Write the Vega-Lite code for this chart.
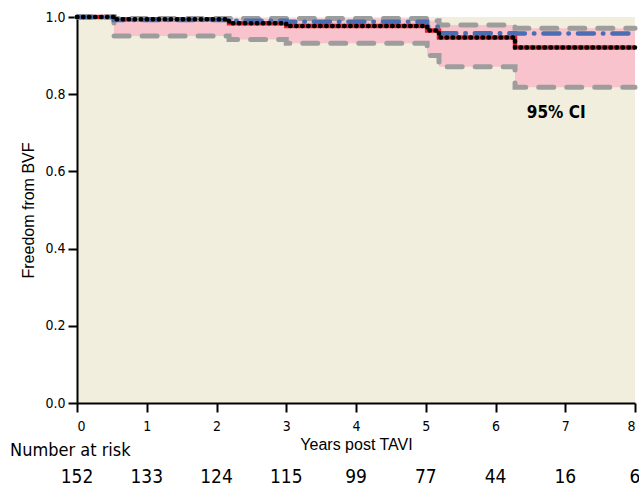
{
  "$schema": "https://vega.github.io/schema/vega-lite/v6.json",
  "width": 558,
  "height": 386,
  "autosize": {"type": "none"},
  "padding": {"left": 77, "top": 17, "right": 4, "bottom": 86},
  "background": "white",
  "config": {
    "view": {"fill": "#f2eedd", "stroke": null},
    "axis": {
      "domainColor": "black", "domainWidth": 2, "tickColor": "black", "tickWidth": 2, "tickSize": 9,
      "labelColor": "black", "labelFont": "DejaVu Sans Condensed", "labelFontSize": 14,
      "titleColor": "black", "titleFont": "Liberation Sans", "titleFontSize": 16, "titleFontWeight": "normal",
      "grid": false
    }
  },
  "datasets": {
    "curves": [
      {"t": 0, "km": 1.0, "lo": 1.0, "hi": 1.0, "blue": 1.0},
      {"t": 0.53, "km": 0.994, "lo": 0.951, "hi": 0.996, "blue": 0.992},
      {"t": 2.18, "km": 0.984, "lo": 0.942, "hi": 0.996, "blue": 0.990},
      {"t": 3.0, "km": 0.977, "lo": 0.932, "hi": 0.996, "blue": 0.988},
      {"t": 5.02, "km": 0.965, "lo": 0.90, "hi": 0.99, "blue": 0.975},
      {"t": 5.19, "km": 0.947, "lo": 0.871, "hi": 0.979, "blue": 0.958},
      {"t": 6.28, "km": 0.921, "lo": 0.818, "hi": 0.971, "blue": 0.957},
      {"t": 8, "km": 0.921, "lo": 0.818, "hi": 0.971, "blue": 0.957}
    ],
    "risk": [
      {"t": 0, "n": 152}, {"t": 1, "n": 133}, {"t": 2, "n": 124}, {"t": 3, "n": 115},
      {"t": 4, "n": 99}, {"t": 5, "n": 77}, {"t": 6, "n": 44}, {"t": 7, "n": 16}, {"t": 8, "n": 6}
    ]
  },
  "layer": [
    {
      "data": {"name": "curves"},
      "mark": {"type": "area", "interpolate": "step-after", "color": "#f9c3cd", "opacity": 1},
      "encoding": {
        "x": {"field": "t", "type": "quantitative", "scale": {"domain": [0, 8], "nice": false},
              "axis": {"title": "Years post TAVI", "values": [0,1,2,3,4,5,6,7,8], "format": "d", "labelPadding": 7, "titlePadding": 3}},
        "y": {"field": "lo", "type": "quantitative", "scale": {"domain": [0, 1], "nice": false},
              "axis": {"title": "Freedom from BVF", "values": [0,0.2,0.4,0.6,0.8,1.0], "format": ".1f", "labelPadding": 3, "titlePadding": 8}},
        "y2": {"field": "hi"}
      }
    },
    {
      "data": {"name": "curves"},
      "mark": {"type": "line", "interpolate": "step-after", "color": "#e3232c", "strokeWidth": 4.5},
      "encoding": {"x": {"field": "t", "type": "quantitative"}, "y": {"field": "km", "type": "quantitative"}}
    },
    {
      "data": {"name": "curves"},
      "mark": {"type": "line", "interpolate": "step-after", "color": "#9d9d9d", "strokeWidth": 5, "strokeDash": [15, 13], "strokeCap": "round"},
      "encoding": {"x": {"field": "t", "type": "quantitative"}, "y": {"field": "lo", "type": "quantitative"}}
    },
    {
      "data": {"name": "curves"},
      "mark": {"type": "line", "interpolate": "step-after", "color": "#9d9d9d", "strokeWidth": 5, "strokeDash": [15, 13], "strokeCap": "round"},
      "encoding": {"x": {"field": "t", "type": "quantitative"}, "y": {"field": "hi", "type": "quantitative"}}
    },
    {
      "data": {"name": "curves"},
      "mark": {"type": "line", "interpolate": "step-after", "color": "#4a6db4", "strokeWidth": 4.5, "strokeDash": [16, 9, 0.5, 9], "strokeCap": "round"},
      "encoding": {"x": {"field": "t", "type": "quantitative"}, "y": {"field": "blue", "type": "quantitative"}}
    },
    {
      "data": {"name": "curves"},
      "mark": {"type": "line", "interpolate": "step-after", "color": "black", "strokeWidth": 4.5, "strokeDash": [0.5, 5.5], "strokeCap": "round"},
      "encoding": {"x": {"field": "t", "type": "quantitative"}, "y": {"field": "km", "type": "quantitative"}}
    },
    {
      "data": {"values": [{"label": "95% CI"}]},
      "mark": {"type": "text", "font": "DejaVu Sans Condensed", "fontWeight": "bold", "fontSize": 17, "color": "black", "align": "center", "baseline": "middle"},
      "encoding": {"x": {"datum": 6.87, "type": "quantitative"}, "y": {"datum": 0.751, "type": "quantitative"}, "text": {"field": "label"}}
    },
    {
      "data": {"values": [{"label": "Number at risk"}]},
      "mark": {"type": "text", "font": "DejaVu Sans Condensed", "fontSize": 18, "color": "black", "align": "left", "baseline": "middle"},
      "encoding": {"x": {"datum": -0.96, "type": "quantitative"}, "y": {"datum": -0.124, "type": "quantitative"}, "text": {"field": "label"}}
    },
    {
      "data": {"name": "risk"},
      "mark": {"type": "text", "font": "DejaVu Sans Condensed", "fontSize": 19, "color": "black", "align": "center", "baseline": "middle"},
      "encoding": {"x": {"field": "t", "type": "quantitative"}, "y": {"datum": -0.192, "type": "quantitative"}, "text": {"field": "n"}}
    }
  ]
}
